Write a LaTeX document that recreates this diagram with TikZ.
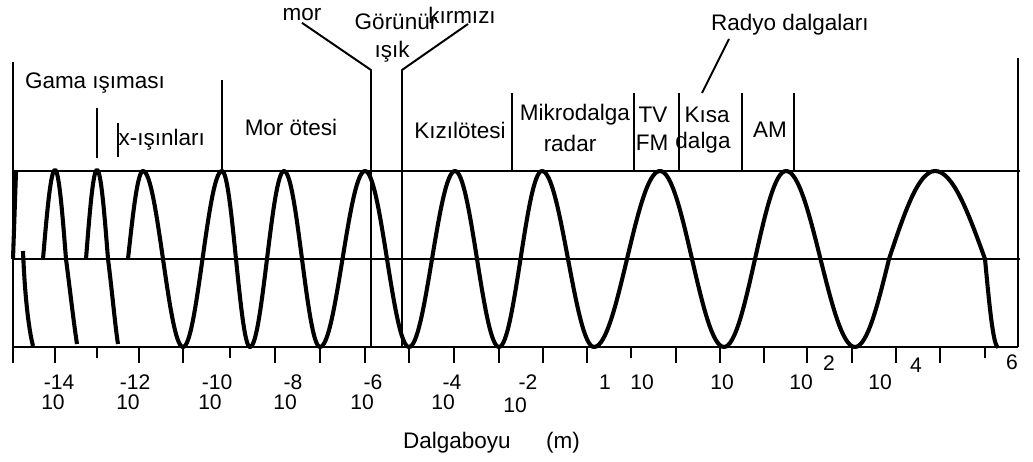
\documentclass[tikz,border=0pt]{standalone}
\usepackage{fontspec}
\setmainfont{Liberation Sans}

\tikzset{
  lbl/.style={font=\fontsize{16}{18}\selectfont,inner sep=1pt},
  ticklbl/.style={font=\fontsize{15}{17}\selectfont,inner sep=0pt},
  wave/.style={line width=2.9pt},
  frame/.style={line width=2.1pt},
  divider/.style={line width=1.4pt},
  thinline/.style={line width=0.8pt},
}

\begin{document}
\begin{tikzpicture}[x=0.25mm,y=-0.25mm,line join=round]
  \useasboundingbox (0,0) rectangle (1033,462);
  % frame and axis
  \draw[frame] (13,62) -- (13,363);
  \draw[frame] (1018,58) -- (1018,347);
  \draw[frame] (13,171) -- (1020,171);
  \draw[frame] (13,259) -- (1020,259);
  \draw[frame] (13,347) -- (1018,347);
  \foreach \x in {55,139,183,275,320,365,409,454,499,543,587,676,720,764,807,852,896,940}
    \draw[frame] (\x,347) -- (\x,363);
  \foreach \x in {97,230,631,985}
    \draw[frame] (\x,347) -- (\x,358);

  % broken start of the wave
  \draw[wave] (13,259) -- (16,172);
  \draw[wave] (23,251) .. controls (25,300) and (29,330) .. (33,346);
  \draw[wave] (43,259) sin (55,170) cos (66,259) .. controls (70,290) and (74,325) .. (77,344);
  \draw[wave] (86,259) sin (97,170) cos (108,259) .. controls (112,290) and (115,325) .. (118,344);
  % the wave
  \draw[wave] (128,259) sin (143,171) cos (163,259) sin (183,347) cos (202.5,259)
    sin (222,171) cos (236,259) sin (250,347) cos (267,259) sin (284,171)
    cos (302,259) sin (320,347) cos (342.5,259) sin (365,171) cos (387,259)
    sin (409,347) cos (432,259) sin (455,171) cos (477,259) sin (499,347)
    cos (520.5,259) sin (542,171) cos (568,259) sin (594,347) cos (627,259)
    sin (660,171) cos (692,259) sin (724,347) cos (755,259) sin (786,171)
    cos (820.5,259) sin (855,347) cos (889,259) sin (935,171) cos (985,259)
    sin (998,347);

  % band dividers
  \draw[divider] (97,108) -- (97,158);
  \draw[thinline] (118,123) -- (118,157);
  \draw[divider] (222,80) -- (222,171);
  \draw[divider] (512,93) -- (512,171);
  \draw[divider] (634,93) -- (634,171);
  \draw[divider] (679,93) -- (679,171);
  \draw[divider] (742,93) -- (742,171);
  \draw[divider] (794,93) -- (794,171);

  % band names
  \node[lbl] (gama) at (95,83) {Gama ışıması};
  \node[lbl,anchor=west] (xray) at (117,140) {x-ışınları};
  \node[lbl] (uv) at (291,127) {Mor ötesi};
  \node[lbl] (mor) at (302,15) {mor};
  \node[lbl] (gorunur) at (396,22) {Görünür};
  \node[lbl] (kirmizi) at (462,15) {kırmızı};
  \node[lbl] (isik) at (392,52) {ışık};
  \node[lbl] (ir) at (460,130) {Kızılötesi};
  \node[lbl] (mikro) at (575,115) {Mikrodalga};
  \node[lbl] (radar) at (570,143) {radar};
  \node[lbl] (tv) at (653,115) {TV};
  \node[lbl] (fm) at (652,143) {FM};
  \node[lbl] (kisa) at (707,115) {Kısa};
  \node[lbl] (dalga) at (703,143) {dalga};
  \node[lbl] (am) at (770,130) {AM};
  \node[lbl] (radyo) at (790,25) {Radyo dalgaları};

  % leaders
  \coordinate (morknee) at (371,70);
  \coordinate (kirtip) at (468,24);
  \coordinate (kirknee) at (402,70);
  \coordinate (radtip) at (729,39);
  \coordinate (radend) at (702,93);
  \draw[divider] (mor.south) -- (morknee) -- (371,162);
  \draw[thinline] (371,162) -- (371,347);
  \draw[divider] (kirtip) -- (kirknee) -- (402,164);
  \draw[thinline] (402,164) -- (402,347);
  \draw[divider] (radtip) -- (radend);

  % scale
  \node[ticklbl] at (59,382) {-14};
  \node[ticklbl] at (53,402) {10};
  \node[ticklbl] at (135,382) {-12};
  \node[ticklbl] at (128,402) {10};
  \node[ticklbl] at (217,382) {-10};
  \node[ticklbl] at (210,402) {10};
  \node[ticklbl] at (293,382) {-8};
  \node[ticklbl] at (285,402) {10};
  \node[ticklbl] at (373,382) {-6};
  \node[ticklbl] at (362,402) {10};
  \node[ticklbl] at (452,382) {-4};
  \node[ticklbl] at (443,402) {10};
  \node[ticklbl] at (528,382) {-2};
  \node[ticklbl] at (515,405) {10};
  \node[ticklbl] at (605,382) {1};
  \node[ticklbl] at (642,382) {10};
  \node[ticklbl] at (722,382) {10};
  \node[ticklbl] at (801,382) {10};
  \node[ticklbl] at (829,363) {2};
  \node[ticklbl] at (880,382) {10};
  \node[ticklbl] at (916,365) {4};
  \node[ticklbl] at (1012,362) {6};
  \node[lbl] (boy) at (457,443) {Dalgaboyu};
  \node[lbl] (birim) at (563,443) {(m)};
\end{tikzpicture}
\end{document}
